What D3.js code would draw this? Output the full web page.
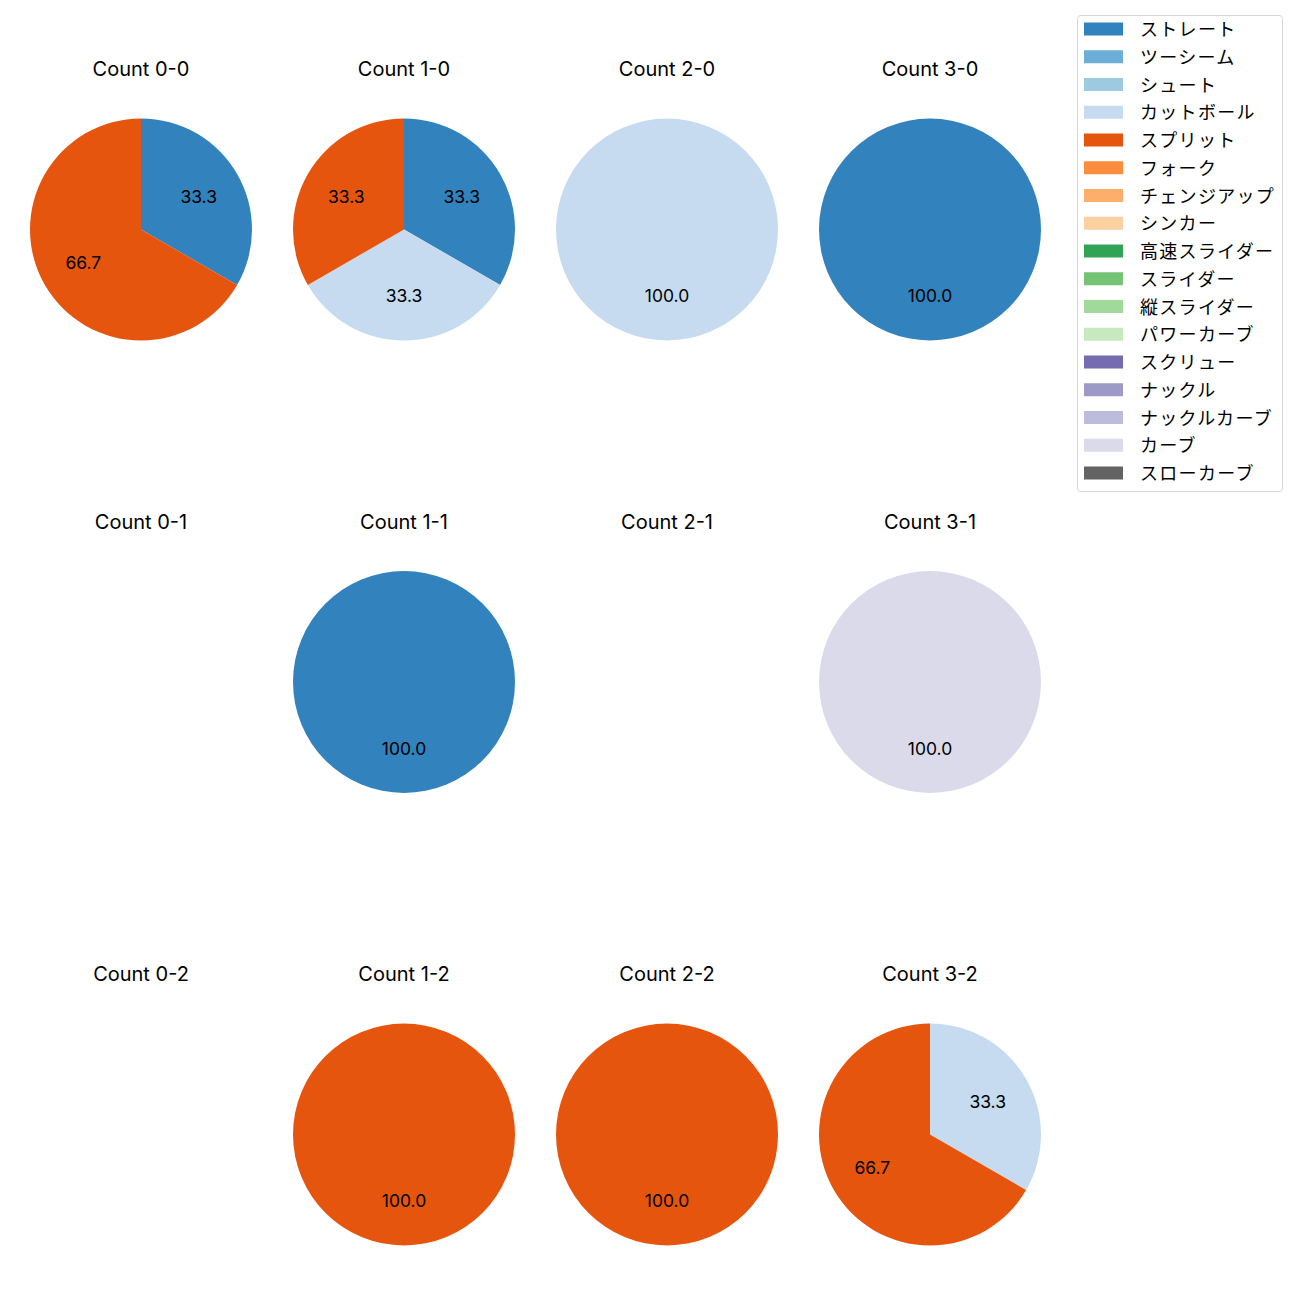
<!DOCTYPE html>
<html><head><meta charset="utf-8">
<script src="https://cdn.jsdelivr.net/npm/d3@7"></script>
<style>body{margin:0;background:#fff;} text{font-family:Inter,"Noto Sans CJK JP",sans-serif;}</style>
</head><body>
<svg id="c" width="1300" height="1300"></svg>
<script>
const pitchTypes = ["ストレート","ツーシーム","シュート","カットボール","スプリット","フォーク","チェンジアップ","シンカー","高速スライダー","スライダー","縦スライダー","パワーカーブ","スクリュー","ナックル","ナックルカーブ","カーブ","スローカーブ"];
const colors = ["#3182bd","#6baed6","#9ecae1","#c6dbef","#e6550d","#fd8d3c","#fdae6b","#fdd0a2","#31a354","#74c476","#a1d99b","#c7e9c0","#756bb1","#9e9ac8","#bcbddc","#dadaeb","#636363"];
const balls = [0,1,2,3];
const strikes = [0,1,2];
// counts per pitch type for each "balls-strikes"
const countData = {
  "0-0": {"ストレート":1,"スプリット":2},
  "1-0": {"ストレート":1,"カットボール":1,"スプリット":1},
  "2-0": {"カットボール":1},
  "3-0": {"ストレート":1},
  "0-1": {},
  "1-1": {"ストレート":1},
  "2-1": {},
  "3-1": {"カーブ":1},
  "0-2": {},
  "1-2": {"スプリット":1},
  "2-2": {"スプリット":1},
  "3-2": {"カットボール":1,"スプリット":2}
};

const svg = d3.select("#c");
const color = d3.scaleOrdinal().domain(pitchTypes).range(colors);
const cx = d3.scalePoint().domain(balls).range([141,930]);
const cy = d3.scalePoint().domain(strikes).range([229.5,1134.5]);
const R = 111;
const pie = d3.pie().value(d=>d.v).sort(null).startAngle(0).endAngle(2*Math.PI);
const arc = d3.arc().innerRadius(0).outerRadius(R);
const labelArc = d3.arc().innerRadius(R*0.6).outerRadius(R*0.6);

strikes.forEach(s=>{
  balls.forEach(b=>{
    const key = b+"-"+s;
    const g = svg.append("g").attr("transform",`translate(${cx(b)},${cy(s)})`);
    g.append("text").attr("x",0).attr("y",-153.5).attr("text-anchor","middle")
      .attr("font-size",20).attr("fill","#000").text("Count "+key);
    const entries = pitchTypes.filter(p=>countData[key][p]).map(p=>({k:p,v:countData[key][p]}));
    if(!entries.length) return;
    const total = d3.sum(entries,d=>d.v);
    const arcs = pie(entries);
    g.selectAll("path").data(arcs).join("path").attr("d",arc).attr("fill",d=>color(d.data.k));
    g.selectAll("text.l").data(arcs).join("text").attr("class","l")
      .attr("transform",d=>`translate(${labelArc.centroid(d)})`)
      .attr("text-anchor","middle").attr("dy","0.36em")
      .attr("font-size",17.5).attr("fill","#000")
      .text(d=>(d.data.v/total*100).toFixed(1));
  });
});

// legend
const lg = svg.append("g");
lg.append("rect").attr("x",1077.5).attr("y",15.5).attr("width",205).attr("height",476).attr("rx",3)
  .attr("fill","#fff").attr("stroke","#d6d6d6");
const ly = d3.scaleLinear().domain([0,pitchTypes.length-1]).range([29,473]);
pitchTypes.forEach((p,i)=>{
  lg.append("rect").attr("x",1084).attr("y",ly(i)-6.5).attr("width",39).attr("height",13).attr("fill",color(p));
  lg.append("text").attr("x",1140).attr("y",ly(i)).attr("dy","0.4em")
    .attr("font-size",18).attr("letter-spacing",1.3).attr("fill","#000").text(p);
});
</script>
</body></html>
